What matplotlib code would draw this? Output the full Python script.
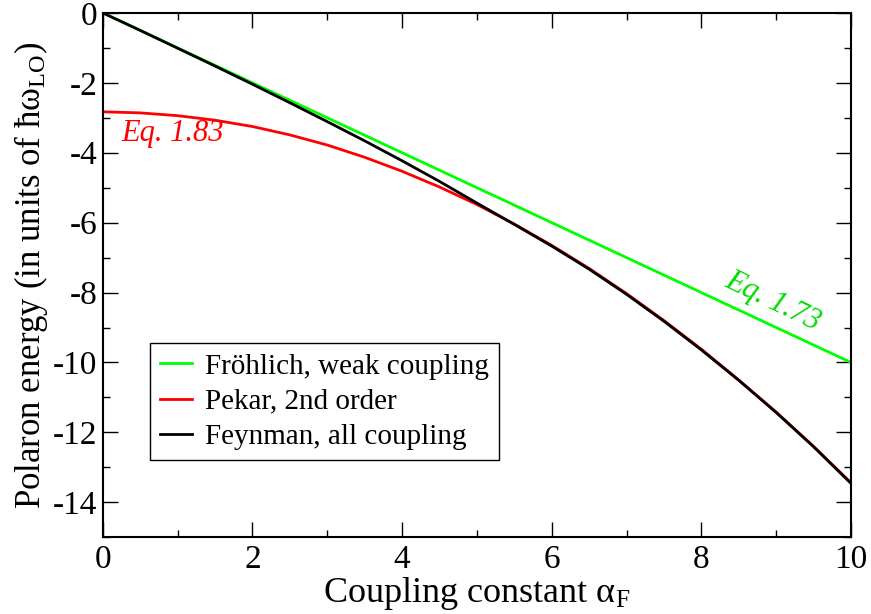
import matplotlib
matplotlib.use("Agg")
import matplotlib.pyplot as plt
from matplotlib.ticker import MultipleLocator, FuncFormatter

plt.rcParams['font.family'] = ['Liberation Serif', 'DejaVu Serif']
plt.rcParams['mathtext.fontset'] = 'custom'
plt.rcParams['mathtext.rm'] = 'Liberation Serif'
plt.rcParams['mathtext.it'] = 'Liberation Serif:italic'
plt.rcParams['axes.unicode_minus'] = False

alpha = [0, 0.5, 1, 1.5, 2, 2.5, 3, 3.5, 4, 4.5, 5, 5.5, 6, 6.5, 7, 7.5, 8, 8.5, 9, 9.5, 10]
frohlich_alpha = [0, 10]
frohlich = [0, -10]
pekar = [-2.83, -2.86, -2.94, -3.07, -3.25, -3.49, -3.78, -4.13, -4.53, -4.98, -5.48,
         -6.04, -6.65, -7.31, -8.03, -8.80, -9.62, -10.50, -11.42, -12.40, -13.44]
feynman = [0, -0.50, -1.01, -1.52, -2.04, -2.57, -3.11, -3.66, -4.23, -4.82, -5.44,
           -6.05, -6.67, -7.33, -8.05, -8.82, -9.64, -10.51, -11.43, -12.41, -13.46]

fig = plt.figure(figsize=(8.71, 6.14), dpi=100)
ax = fig.add_axes([0.118, 0.125, 0.859, 0.854])

ax.plot(frohlich_alpha, frohlich, color='#00ff00', lw=2.0, label='Fröhlich, weak coupling')
ax.plot(alpha, pekar, color='#ff0000', lw=2.0, label='Pekar, 2nd order')
ax.plot(alpha, feynman, color='black', lw=2.0, label='Feynman, all coupling')

ax.set_xlim(0, 10)
ax.set_ylim(-15, 0)
ax.xaxis.set_major_locator(MultipleLocator(2))
ax.xaxis.set_minor_locator(MultipleLocator(1))
ax.yaxis.set_major_locator(MultipleLocator(2))
ax.yaxis.set_minor_locator(MultipleLocator(1))
fmt = FuncFormatter(lambda v, pos: '%g' % v)
ax.xaxis.set_major_formatter(fmt)
ax.yaxis.set_major_formatter(fmt)
ax.tick_params(which='both', direction='in', top=True, right=True, width=1.0)
ax.tick_params(which='major', length=11, labelsize=24)
ax.tick_params(axis='x', which='major', pad=5)
ax.tick_params(axis='y', which='major', pad=4)
ax.tick_params(which='minor', length=5)
for lab in ax.get_xticklabels() + ax.get_yticklabels():
    lab.set_fontfamily('Liberation Serif')
for s in ax.spines.values():
    s.set_linewidth(1.5)

ax.set_xlabel('Coupling constant α$_{\\mathrm{F}}$', fontsize=26, labelpad=0)
ax.set_ylabel('Polaron energy (in units of ħω$_{\\mathrm{LO}}$)', fontsize=25, labelpad=2)

ax.text(0.25, -3.66, 'Eq. 1.83', color='#ff0000', fontsize=22, style='italic',
        ha='left', va='baseline')
ax.text(8.96, -8.25, 'Eq. 1.73', color='#00dd00', fontsize=22, style='italic',
        ha='center', va='center', rotation=-26)

leg = ax.legend(loc='lower left', bbox_to_anchor=(0.063, 0.147), borderaxespad=0,
                fontsize=21, frameon=True, fancybox=False, edgecolor='black',
                handlelength=1.1, handletextpad=0.45, borderpad=0.35,
                labelspacing=0.3, framealpha=1)
leg.get_frame().set_linewidth(1.0)

fig.savefig('out.png', dpi=100)
